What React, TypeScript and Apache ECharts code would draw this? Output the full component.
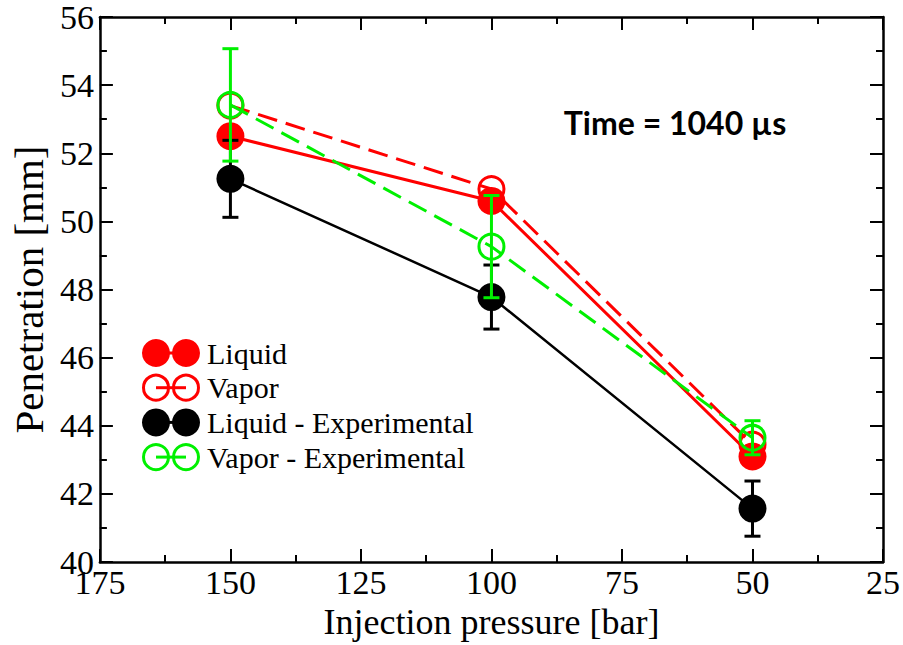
import React, { useEffect, useRef } from "react";
import * as echarts from "echarts";

const pressures = [150, 100, 50];
const liquid = [52.5, 50.6, 43.1];
const vapor = [53.4, 50.95, 43.45];
const liquidExp = [51.25, 47.78, 41.57];
const liquidExpErr = [1.13, 0.94, 0.81];
const vaporExp = [53.42, 49.26, 43.65];
const vaporExpErr = [1.65, 1.5, 0.5];
const seriesNames = ["Liquid", "Vapor", "Liquid - Experimental", "Vapor - Experimental"];
const xTicks = [175, 150, 125, 100, 75, 50, 25];
const yTicks = [40, 42, 44, 46, 48, 50, 52, 54, 56];

const RED = "#ff0000";
const GREEN = "#00f000";
const BLACK = "#000000";
const SERIF = "'Liberation Serif', 'Times New Roman', serif";

function pts(vals: number[]) {
  return pressures.map((p, i) => [p, vals[i]]);
}
function errPts(vals: number[], errs: number[]) {
  return pressures.map((p, i) => [p, vals[i], errs[i]]);
}

function errSeries(name: string, data: number[][], color: string) {
  return {
    type: "custom",
    name: name + " err",
    xAxisIndex: 0,
    yAxisIndex: 0,
    data,
    silent: true,
    renderItem: (params: any, api: any) => {
      const x = api.value(0);
      const y = api.value(1);
      const e = api.value(2);
      const t = api.coord([x, y + e]);
      const b = api.coord([x, y - e]);
      const hw = 8;
      const st = { stroke: color, lineWidth: 3 };
      return {
        type: "group",
        children: [
          { type: "line", shape: { x1: t[0], y1: t[1], x2: b[0], y2: b[1] }, style: st },
          { type: "line", shape: { x1: t[0] - hw, y1: t[1], x2: t[0] + hw, y2: t[1] }, style: st },
          { type: "line", shape: { x1: b[0] - hw, y1: b[1], x2: b[0] + hw, y2: b[1] }, style: st },
        ],
      };
    },
  };
}

export default function App() {
  const ref = useRef<HTMLDivElement>(null);
  useEffect(() => {
    if (!ref.current) return;
    const chart = echarts.init(ref.current, null, { renderer: "svg" });

    const legendColors = [RED, RED, BLACK, GREEN];
    const legendFilled = [true, false, true, false];
    const legendGraphics: any[] = [];
    const lx = 156;
    const ly0 = 353;
    const dy = 34.7;
    seriesNames.forEach((n, i) => {
      const cy = ly0 + i * dy;
      const c = legendColors[i];
      const f = legendFilled[i];
      legendGraphics.push({
        type: "line",
        shape: { x1: lx, y1: cy, x2: lx + 30, y2: cy },
        style: { stroke: c, lineWidth: 3 },
      });
      [lx, lx + 30].forEach((cx) => {
        legendGraphics.push({
          type: "circle",
          shape: { cx, cy, r: f ? 14 : 12.5 },
          style: f ? { fill: c } : { fill: "none", stroke: c, lineWidth: 3 },
        });
      });
      legendGraphics.push({
        type: "text",
        x: lx + 51,
        y: cy,
        style: {
          text: n,
          fill: "#000",
          font: `30px ${SERIF}`,
          verticalAlign: "middle",
        },
      });
    });
    legendGraphics.push({
      type: "text",
      x: 675,
      y: 122,
      style: {
        text: "Time = 1040 µs",
        fill: "#000",
        font: `bold 32px Lato, 'Open Sans', sans-serif`,
        align: "center",
        verticalAlign: "middle",
      },
    });

    const axisLine = { show: true, lineStyle: { color: "#000", width: 2.5 } };
    const axisTick = { show: true, inside: true, length: 13, lineStyle: { color: "#000", width: 2 } };
    const minorTick = { show: true, splitNumber: 2, length: 7, lineStyle: { color: "#000", width: 2 } };

    chart.setOption({
      animation: false,
      backgroundColor: "#fff",
      grid: { left: 94, right: 19, top: 16, bottom: 76, containLabel: false },
      xAxis: [
        {
          type: "value",
          min: 25,
          max: 175,
          interval: 25,
          inverse: true,
          position: "bottom",
          axisLine,
          axisTick,
          minorTick,
          splitLine: { show: false },
          axisLabel: {
            color: "#000",
            fontFamily: SERIF,
            fontSize: 34,
            margin: 3,
            formatter: (v: number) => (xTicks.includes(v) ? String(v) : ""),
          },
          name: "Injection pressure [bar]",
          nameLocation: "middle",
          nameGap: 38,
          nameTextStyle: { color: "#000", fontFamily: SERIF, fontSize: 36 },
        },
        {
          type: "value",
          min: 25,
          max: 175,
          interval: 25,
          inverse: true,
          position: "top",
          axisLine,
          axisTick,
          minorTick,
          splitLine: { show: false },
          axisLabel: { show: false },
        },
      ],
      yAxis: [
        {
          type: "value",
          min: 40,
          max: 56,
          interval: 2,
          position: "left",
          axisLine,
          axisTick,
          minorTick,
          splitLine: { show: false },
          axisLabel: {
            color: "#000",
            fontFamily: SERIF,
            fontSize: 34,
            margin: 6,
            formatter: (v: number) => (yTicks.includes(v) ? String(v) : ""),
          },
          name: "Penetration [mm]",
          nameLocation: "middle",
          nameGap: 50,
          nameTextStyle: { color: "#000", fontFamily: SERIF, fontSize: 41 },
        },
        {
          type: "value",
          min: 40,
          max: 56,
          interval: 2,
          position: "right",
          axisLine,
          axisTick,
          minorTick,
          splitLine: { show: false },
          axisLabel: { show: false },
        },
      ],
      graphic: legendGraphics,
      series: [
        {
          name: seriesNames[0],
          type: "line",
          data: pts(liquid),
          symbol: "circle",
          symbolSize: 28,
          itemStyle: { color: RED },
          lineStyle: { color: RED, width: 3 },
          z: 2,
        },
        {
          name: seriesNames[1],
          type: "line",
          data: pts(vapor),
          symbol: "circle",
          symbolSize: 25,
          itemStyle: { color: "transparent", borderColor: RED, borderWidth: 3 },
          lineStyle: { color: RED, width: 3, type: [20, 9] },
          z: 3,
        },
        {
          name: seriesNames[2],
          type: "line",
          data: pts(liquidExp),
          symbol: "circle",
          symbolSize: 28,
          itemStyle: { color: BLACK },
          lineStyle: { color: BLACK, width: 2.5 },
          z: 4,
        },
        { ...errSeries(seriesNames[2], errPts(liquidExp, liquidExpErr), BLACK), z: 5 },
        {
          name: seriesNames[3],
          type: "line",
          data: pts(vaporExp),
          symbol: "circle",
          symbolSize: 25,
          itemStyle: { color: "transparent", borderColor: GREEN, borderWidth: 3 },
          lineStyle: { color: GREEN, width: 3, type: [20, 9] },
          z: 6,
        },
        { ...errSeries(seriesNames[3], errPts(vaporExp, vaporExpErr), GREEN), z: 7 },
      ],
    });
    return () => chart.dispose();
  }, []);
  return <div ref={ref} style={{ width: 903, height: 645, position: "absolute", left: 0, top: 0 }} />;
}
